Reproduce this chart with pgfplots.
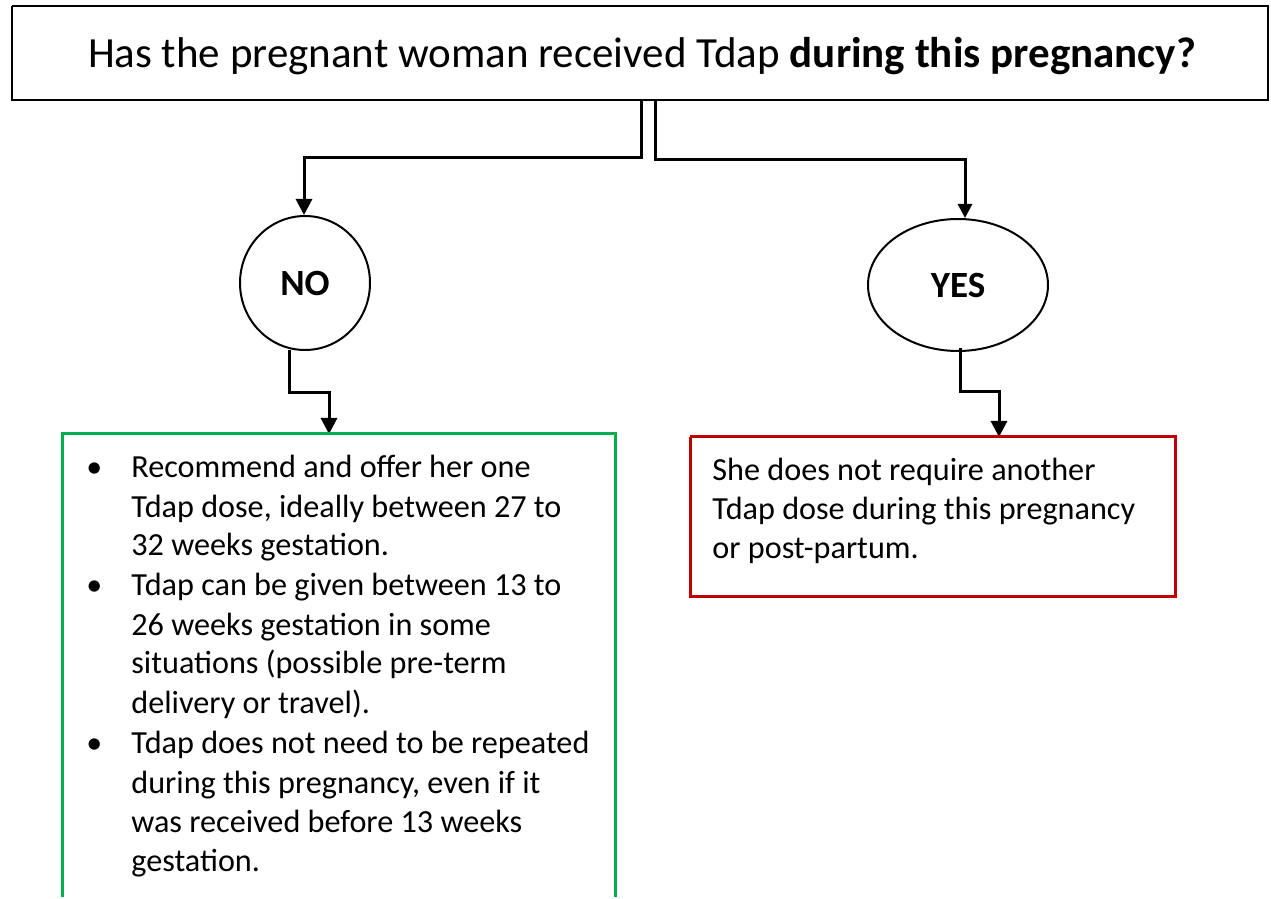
\documentclass[border=0pt]{standalone}
\usepackage{pgfplots}
\pgfplotsset{compat=1.18}
\usepackage{fontspec}
\setmainfont{Carlito}
\usetikzlibrary{arrows.meta,shapes.geometric}
\definecolor{boxgreen}{HTML}{00B050}
\definecolor{boxred}{HTML}{C00000}
\begin{document}
\begin{tikzpicture}
\begin{axis}[
  width=635.5pt, height=448.5pt, scale only axis,
  xmin=0, xmax=1271, ymin=0, ymax=897, y dir=reverse,
  hide axis, clip=false,
]
% frame extent (invisible)
\addplot[draw=none] coordinates {(0,0) (1271,897)};
% title box
\addplot[black, line width=1.2pt] coordinates {(12,6) (1268,6) (1268,100) (12,100) (12,6)};
\node[anchor=base, font=\fontsize{21.5pt}{26pt}\selectfont] at (axis cs:642,68)
  {Has the pregnant woman received Tdap \textbf{during this pregnancy?}};
% connectors from title
\addplot[black, line width=1.5pt, line join=miter, -{Triangle[width=8pt,length=8pt]}]
  coordinates {(641,100) (641,158) (304,158) (304,215)};
\addplot[black, line width=1.5pt, line join=miter, -{Triangle[width=7pt,length=7pt]}]
  coordinates {(655,100) (655,160) (965,160) (965,218)};
% ellipses
\node[draw, ellipse, line width=1pt, minimum width=65pt, minimum height=67pt, inner sep=0pt,
  font=\fontsize{18.5pt}{22pt}\selectfont\bfseries] at (axis cs:305,283) {NO};
\node[draw, ellipse, line width=1pt, minimum width=90pt, minimum height=66pt, inner sep=0pt,
  font=\fontsize{18.5pt}{22pt}\selectfont\bfseries] at (axis cs:958,285) {YES};
% connectors from ellipses
\addplot[black, line width=1.5pt, line join=miter, -{Triangle[width=8pt,length=8pt]}]
  coordinates {(289,350) (289,393) (329,393) (329,434)};
\addplot[black, line width=1.5pt, line join=miter, -{Triangle[width=8pt,length=8pt]}]
  coordinates {(960,348) (960,392) (999,392) (999,437)};
% green box (open at bottom)
\addplot[boxgreen, line width=1.5pt, line join=miter]
  coordinates {(62,897) (62,434) (615,434) (615,897)};
% red box
\addplot[boxred, line width=1.5pt, line join=miter]
  coordinates {(690,437) (1175,437) (1175,597) (690,597) (690,437)};
% green text
\begin{scope}[every node/.style={anchor=base west, inner sep=0pt, font=\fontsize{16.1pt}{19pt}\selectfont}]
\node[font=\fontsize{16pt}{16pt}\selectfont] at (axis cs:86,478) {•};
\node[font=\fontsize{16pt}{16pt}\selectfont] at (axis cs:86,596) {•};
\node[font=\fontsize{16pt}{16pt}\selectfont] at (axis cs:86,754) {•};
\node at (axis cs:131,478) {Recommend and offer her one};
\node at (axis cs:131,517) {Tdap dose, ideally between 27 to};
\node at (axis cs:131,556) {32 weeks gestation.};
\node at (axis cs:131,596) {Tdap can be given between 13 to};
\node at (axis cs:131,635) {26 weeks gestation in some};
\node at (axis cs:131,674) {situations (possible pre-term};
\node at (axis cs:131,713) {delivery or travel).};
\node at (axis cs:131,754) {Tdap does not need to be repeated};
\node at (axis cs:131,793) {during this pregnancy, even if it};
\node at (axis cs:131,832) {was received before 13 weeks};
\node at (axis cs:131,871) {gestation.};
% red text
\node at (axis cs:712,481) {She does not require another};
\node at (axis cs:712,520) {Tdap dose during this pregnancy};
\node at (axis cs:712,559) {or post-partum.};
\end{scope}
\end{axis}
\end{tikzpicture}
\end{document}
